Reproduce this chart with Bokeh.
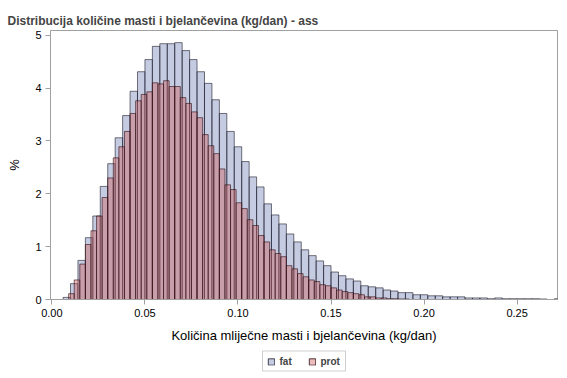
from bokeh.plotting import figure
from bokeh.layouts import column
from bokeh.models import Range1d, FixedTicker, NumeralTickFormatter, Legend, LegendItem
from bokeh.embed import file_html
from bokeh.resources import INLINE

# histogram data (% of observations per bin)
fat_start = 0.006
fat_width = 0.004
fat_pct = [0.04, 0.30, 0.74, 1.17, 1.58, 2.14, 2.57, 3.06, 3.48, 3.94,
           4.31, 4.54, 4.79, 4.84, 4.84, 4.86, 4.71, 4.54, 4.31, 4.09,
           3.78, 3.52, 3.18, 2.89, 2.61, 2.32, 2.13, 1.81, 1.60, 1.43,
           1.24, 1.09, 0.94, 0.83, 0.73, 0.64, 0.52, 0.45, 0.39, 0.35,
           0.26, 0.24, 0.22, 0.18, 0.16, 0.13, 0.13, 0.09, 0.09, 0.07,
           0.07, 0.05, 0.05, 0.05, 0.03, 0.03, 0.03, 0.015, 0.03, 0.015,
           0.015, 0.015, 0.015, 0.015, 0.01, 0.0, 0.015]

prot_start = 0.009
prot_width = 0.003
prot_pct = [0.11, 0.37, 0.67, 1.04, 1.30, 1.58, 1.93, 2.30, 2.68, 2.89,
            3.18, 3.52, 3.76, 3.88, 3.93, 4.10, 4.08, 4.14, 4.03, 4.03,
            3.82, 3.71, 3.55, 3.44, 3.12, 2.91, 2.76, 2.47, 2.17, 2.08,
            1.83, 1.72, 1.51, 1.40, 1.21, 1.09, 0.94, 0.87, 0.81, 0.64,
            0.58, 0.49, 0.43, 0.37, 0.34, 0.28, 0.26, 0.22, 0.18, 0.15,
            0.13, 0.11, 0.09, 0.05, 0.05, 0.03, 0.03, 0.015, 0.015, 0.01, 0.01]

x_ticks = [0.0, 0.05, 0.10, 0.15, 0.20, 0.25]
y_ticks = [0, 1, 2, 3, 4, 5]

series_names = ["fat", "prot"]
title_text = "Distribucija količine masti i bjelančevina (kg/dan) - ass"
x_label = "Količina mliječne masti i bjelančevina (kg/dan)"
y_label = "%"

FONT = "Liberation Sans"
FAT_FILL = "#6F7EB3"
PROT_FILL = "#D05B5B"
FAT_LINE = "#1a1a2a"
PROT_LINE = "#2a0a10"

fat_left = [fat_start + i * fat_width for i in range(len(fat_pct))]
fat_right = [l + fat_width for l in fat_left]
prot_left = [prot_start + i * prot_width for i in range(len(prot_pct))]
prot_right = [l + prot_width for l in prot_left]

p = figure(width=559, height=350, output_backend="svg", toolbar_location=None,
           x_range=Range1d(-0.00075, 0.2717), y_range=Range1d(0, 5.09),
           min_border_left=50, min_border_right=2, min_border_top=30, min_border_bottom=51)

p.title.text = title_text
p.title.text_font = FONT
p.title.text_font_size = "12px"
p.title.text_font_style = "bold"
p.title.align = "left"
p.title.offset = -43
p.title.standoff = 5

p.quad(left=fat_left, right=fat_right, bottom=0, top=fat_pct,
       fill_color=FAT_FILL, fill_alpha=0.4,
       line_color=FAT_LINE, line_alpha=0.6, line_width=1)
p.quad(left=prot_left, right=prot_right, bottom=0, top=prot_pct,
       fill_color=PROT_FILL, fill_alpha=0.4,
       line_color=PROT_LINE, line_alpha=0.6, line_width=1)

p.grid.visible = False
p.outline_line_color = "#a0a0a0"
p.outline_line_width = 1

for ax in (p.xaxis[0], p.yaxis[0]):
    ax.axis_line_color = "#a0a0a0"
    ax.major_tick_line_color = "#a0a0a0"
    ax.minor_tick_line_color = None
    ax.major_tick_in = 0
    ax.major_tick_out = 5
    ax.major_label_text_font = FONT
    ax.major_label_text_font_size = "11px"
    ax.major_label_text_color = "#000000"
    ax.axis_label_text_font = FONT
    ax.axis_label_text_font_size = "13px"
    ax.axis_label_text_font_style = "normal"
    ax.axis_label_text_color = "#000000"

p.xaxis[0].ticker = FixedTicker(ticks=x_ticks)
p.xaxis[0].formatter = NumeralTickFormatter(format="0.00")
p.xaxis[0].axis_label = x_label
p.xaxis[0].major_label_standoff = 4
p.xaxis[0].axis_label_standoff = 8

p.yaxis[0].ticker = FixedTicker(ticks=y_ticks)
p.yaxis[0].formatter = NumeralTickFormatter(format="0")
p.yaxis[0].axis_label = y_label
p.yaxis[0].major_label_standoff = 4
p.yaxis[0].axis_label_standoff = 10

# separate strip for the legend below the x-axis label; its copies of the bars
# lie outside its visible y range, they only supply the legend swatches
lg = figure(width=559, height=22, output_backend="svg", toolbar_location=None,
            x_range=Range1d(-0.00075, 0.2717), y_range=Range1d(-2, -1),
            x_axis_type=None, y_axis_type=None,
            min_border_left=50, min_border_right=2, min_border_top=0, min_border_bottom=0)
lg.outline_line_color = None
lg.grid.visible = False
k_fat = lg.quad(left=fat_left, right=fat_right, bottom=0, top=fat_pct,
                fill_color=FAT_FILL, fill_alpha=0.4,
                line_color=FAT_LINE, line_alpha=0.8, line_width=1)
k_prot = lg.quad(left=prot_left, right=prot_right, bottom=0, top=prot_pct,
                 fill_color=PROT_FILL, fill_alpha=0.4,
                 line_color=PROT_LINE, line_alpha=0.8, line_width=1)
legend = Legend(items=[LegendItem(label=series_names[0], renderers=[k_fat]),
                       LegendItem(label=series_names[1], renderers=[k_prot])],
                orientation="horizontal", location="center",
                label_text_font=FONT, label_text_font_size="10px",
                label_text_font_style="bold",
                glyph_width=8, glyph_height=8, label_standoff=5, spacing=8,
                padding=4, margin=0, border_line_color="#a0a0a0",
                label_height=8)
lg.add_layout(legend, "center")

layout = column(p, lg, spacing=0)
open("out.html", "w").write(file_html(layout, INLINE))
